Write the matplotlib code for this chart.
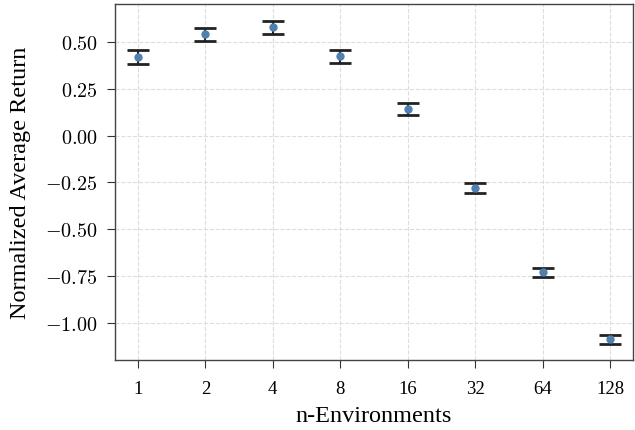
import matplotlib
matplotlib.use('Agg')
import matplotlib.pyplot as plt
from matplotlib.ticker import FuncFormatter

# данные
n_envs = ['1', '2', '4', '8', '16', '32', '64', '128']
mean_return = [0.42, 0.54, 0.577, 0.424, 0.144, -0.28, -0.731, -1.088]
err_return = [0.037, 0.036, 0.036, 0.035, 0.032, 0.028, 0.025, 0.024]
y_ticks = [-1.0, -0.75, -0.5, -0.25, 0.0, 0.25, 0.5]

plt.rcParams['font.family'] = ['Liberation Serif', 'DejaVu Serif']
plt.rcParams['mathtext.fontset'] = 'cm'
plt.rcParams['mathtext.rm'] = 'cmr10'

fig = plt.figure(figsize=(6.35, 4.31), dpi=100)
ax = fig.add_axes([0.181, 0.1624, 0.816, 0.8256])

x = list(range(len(n_envs)))
ax.errorbar(x, mean_return, yerr=err_return, fmt='none', ecolor='#222222',
            elinewidth=1.5, capsize=8, capthick=2, zorder=3)
ax.plot(x, mean_return, 'o', color='#4f81b0', markersize=5, zorder=4)

ax.set_xticks(x)
ax.set_xticklabels(n_envs)
ax.set_xlim(-0.34, 7.34)
ax.set_ylim(-1.198, 0.701)
ax.set_yticks(y_ticks)
# подписи оси Y в стиле LaTeX
ax.yaxis.set_major_formatter(FuncFormatter(lambda v, p: r'$\mathrm{%.2f}$' % v))

ax.grid(True, linestyle='--', color='#dddddd', linewidth=0.8)
ax.set_axisbelow(True)
for s in ax.spines.values():
    s.set_color('#444444')
    s.set_linewidth(1.0)
ax.tick_params(axis='x', labelsize=13.5, color='#333333', length=5.5, pad=9)
ax.tick_params(axis='y', labelsize=14.5, color='#333333', length=5.5, pad=7)

ax.set_xlabel('n-Environments', fontsize=17.5, labelpad=5.5)
ax.set_ylabel('Normalized Average Return', fontsize=17.5, labelpad=10)

fig.savefig('out.png', dpi=100)
